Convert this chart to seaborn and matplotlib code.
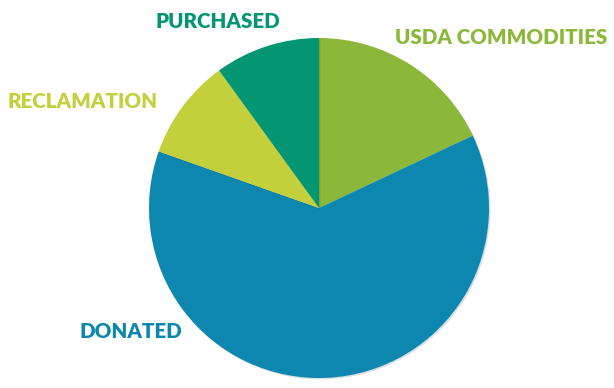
import matplotlib
matplotlib.use("Agg")
import matplotlib.pyplot as plt
import matplotlib.patheffects as pe
import seaborn as sns

# slice data, clockwise from 12 o'clock
sources = ["USDA COMMODITIES", "DONATED", "RECLAMATION", "PURCHASED"]
shares = [18, 62.4, 9.6, 10]
colors = ["#8cb83a", "#0d87b0", "#c3cf3b", "#049572"]

# label anchors in pixel coords (x, y from top)
label_pos = [(501, 37), (131, 331), (83, 101), (218, 22)]

sns.set_theme(style="white")
plt.rcParams['font.family'] = ['Lato', 'DejaVu Sans']

fig = plt.figure(figsize=(6.14, 3.88), dpi=100)
ax = fig.add_axes([0, 0, 1, 1])

wedges, _ = ax.pie(shares, colors=colors, startangle=90, counterclock=False,
                   center=(319, 180), radius=170, frame=True,
                   wedgeprops=dict(linewidth=0))
for w in wedges:
    w.set_path_effects([pe.SimplePatchShadow(offset=(1, -1), alpha=0.15),
                        pe.Normal()])
ax.set_xlim(0, 614)
ax.set_ylim(0, 388)
ax.set_aspect("equal")
ax.axis("off")

for name, col, (x, y) in zip(sources, colors, label_pos):
    ax.text(x, 388 - y, name, color=col, fontsize=14.8, fontweight="heavy",
            ha="center", va="center")

fig.savefig("out.png", dpi=100)
